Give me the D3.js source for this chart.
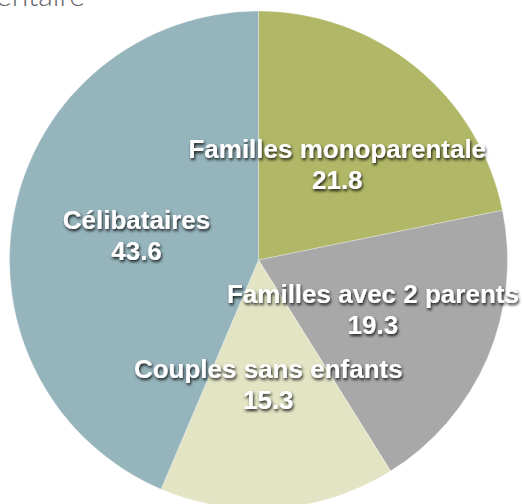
<!DOCTYPE html>
<html>
<head>
<meta charset="utf-8">
<script src="https://cdn.jsdelivr.net/npm/d3@7"></script>
<style>
  html, body { margin: 0; padding: 0; background: #fff; }
  svg { display: block; }
</style>
</head>
<body>
<svg id="chart" width="522" height="504"></svg>
<script>
const categories = ["Familles monoparentale", "Familles avec 2 parents", "Couples sans enfants", "Célibataires"];
const values = [21.8, 19.3, 15.3, 43.6];
const colors = ["#b0b766", "#a8a8a8", "#e2e4c4", "#95b4bc"];
const titleText = "entaire";

const W = 522, H = 504;
const cx = 258.5, cy = 260, R = 249;

const svg = d3.select("#chart");

const defs = svg.append("defs");
const f = defs.append("filter").attr("id", "shadow")
  .attr("x", "-20%").attr("y", "-50%").attr("width", "140%").attr("height", "200%");
f.append("feDropShadow").attr("dx", 1).attr("dy", 2).attr("stdDeviation", 1.6)
  .attr("flood-color", "#000").attr("flood-opacity", 0.85);

// partially visible title (cut off at the top edge, as in the reference)
svg.append("text")
  .attr("x", -4).attr("y", 6)
  .attr("font-family", "Lato, 'Open Sans', sans-serif")
  .attr("font-weight", 300)
  .attr("font-size", 30)
  .attr("fill", "#666")
  .text(titleText);

const data = categories.map((c, i) => ({ name: c, value: values[i], color: colors[i] }));

const pie = d3.pie().sort(null).value(d => d.value);
const arc = d3.arc().innerRadius(0).outerRadius(R);

const g = svg.append("g").attr("transform", `translate(${cx},${cy})`);
const arcs = pie(data);

g.selectAll("path.slice").data(arcs).enter().append("path")
  .attr("class", "slice")
  .attr("d", arc)
  .attr("fill", d => d.data.color)
  .attr("stroke", "#ffffff")
  .attr("stroke-opacity", 0.5)
  .attr("stroke-width", 0.6);

const fmt = d3.format(".1f");
const labels = g.selectAll("g.label").data(arcs).enter().append("g")
  .attr("class", "label")
  .attr("transform", d => { const c = arc.centroid(d); return `translate(${c[0]},${c[1]})`; })
  .attr("filter", "url(#shadow)");

labels.append("text")
  .attr("text-anchor", "middle")
  .attr("y", -6)
  .attr("font-family", "'Liberation Sans', Arial, Helvetica, sans-serif")
  .attr("font-weight", "bold")
  .attr("font-size", 26)
  .attr("fill", "#fff")
  .text(d => d.data.name);

labels.append("text")
  .attr("text-anchor", "middle")
  .attr("y", 25)
  .attr("font-family", "'Liberation Sans', Arial, Helvetica, sans-serif")
  .attr("font-weight", "bold")
  .attr("font-size", 26)
  .attr("fill", "#fff")
  .text(d => fmt(d.data.value));
</script>
</body>
</html>
